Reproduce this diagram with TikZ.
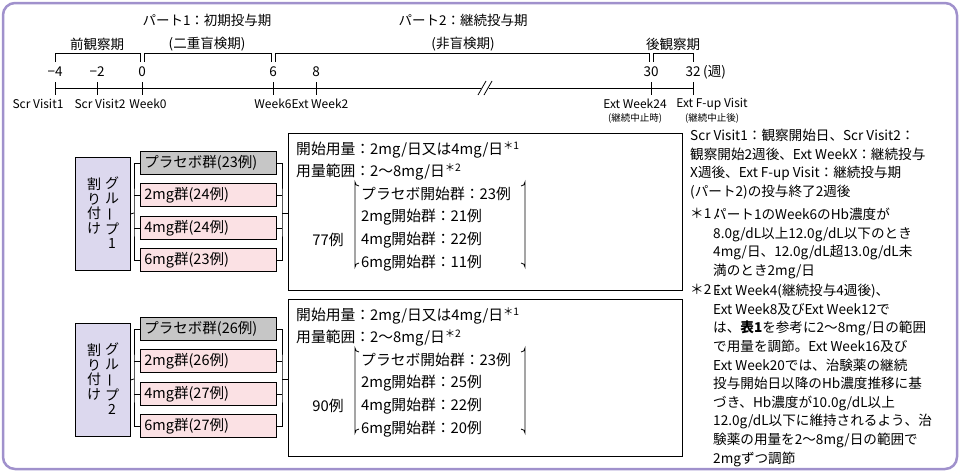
\documentclass[tikz,border=0pt]{standalone}
\usepackage{fontspec}
\setmainfont{Noto Sans CJK JP}
\begin{document}
\begin{tikzpicture}[x=1pt,y=-1pt,
  t/.style={inner sep=0pt,font=\fontsize{13.5}{15}\selectfont},
  sm/.style={inner sep=0pt,font=\fontsize{12}{13}\selectfont},
  xs/.style={inner sep=0pt,font=\fontsize{9.5}{10}\selectfont},
  grp/.style={draw,line width=0.8pt,minimum width=136pt,minimum height=23pt,anchor=west,inner sep=3pt,text width=128pt,align=left,font=\fontsize{14.5}{16}\selectfont},
  alloc/.style={draw,line width=0.8pt,fill=lav,minimum width=55pt,anchor=north west},
  ln/.style={line width=0.8pt},
  info/.style={t,font=\fontsize{14.8}{16}\selectfont},
  nts/.style={t,anchor=north west,align=left,font=\fontsize{13.6}{18.6}\selectfont}]
\definecolor{lav}{HTML}{DCD8EE}\definecolor{pk}{HTML}{FBE1E4}\definecolor{gr}{HTML}{C6C6C6}\definecolor{brd}{HTML}{A091CC}
\useasboundingbox (0,0) rectangle (960,472);
\draw[brd,line width=2.5pt,rounded corners=12pt] (3,3) rectangle (957,469);
% timeline
\draw[ln] (55,62)--(55,53)--(140,53)--(140,62);
\draw[ln] (144,62)--(144,53)--(271,53)--(271,62);
\draw[ln] (275,62)--(275,53)--(649,53)--(649,62);
\draw[ln] (653,62)--(653,53)--(693,53)--(693,62);
\node[t] (pre) at (97,44) {前観察期};
\node[t] (p1a) at (207,20) {パート1：初期投与期};
\node[t] (p1b) at (207,44) {(二重盲検期)};
\node[t] (p2a) at (463,20) {パート2：継続投与期};
\node[t] (p2b) at (463,44) {(非盲検期)};
\node[t] (post) at (673,44) {後観察期};
\draw[ln] (55,88)--(481,88) (489,88)--(693,88);
\draw[ln] (478,95)--(486,81) (484,95)--(492,81);
\foreach \x/\n in {55/−4,97/−2,142/0,273/6,316/8,651/30,693/32}{
  \draw[ln] (\x,82)--(\x,95);
  \node[t] at (\x,72) {\n};
}
\node[t,anchor=west] (wk) at (703,72) {(週)};
\node[sm] (v1) at (38,104) {Scr Visit1};
\node[sm] (v2) at (100,104) {Scr Visit2};
\node[sm] (v3) at (148,104) {Week0};
\node[sm] (v4) at (273,104) {Week6};
\node[sm] (v5) at (320,104) {Ext Week2};
\node[sm] (v6) at (635,104) {Ext Week24};
\node[sm] (v7) at (712,104) {Ext F-up Visit};
\node[xs] (s6) at (635,118) {(継続中止時)};
\node[xs] (s7) at (712,118) {(継続中止後)};
% groups
\foreach \g/\a/\b/\c/\d/\n/\yo/\p/\qa/\qb/\qc in {1/23/24/24/23/77/0/23/21/22/11,2/26/26/27/27/90/166/23/25/22/20}{
\begin{scope}[yshift=-\yo]
\node[alloc,minimum height=113pt] (al\g) at (75,157) {};
\node[inner sep=0pt,align=center,font=\fontsize{14}{14.5}\selectfont] (gA\g) at (112,213) {グ\\ル\\\rotatebox[origin=c]{90}{ー}\\プ\\\g};
\node[inner sep=0pt,align=center,font=\fontsize{14}{14.5}\selectfont] (gB\g) at (94,206) {割\\り\\付\\け};
\node[grp,fill=gr] (a\g) at (140,163) {プラセボ群(\a 例)};
\node[grp,fill=pk] (b\g) at (140,195) {2mg群(\b 例)};
\node[grp,fill=pk] (c\g) at (140,228) {4mg群(\c 例)};
\node[grp,fill=pk] (d\g) at (140,260) {6mg群(\d 例)};
\draw[ln] (al\g.east)--(134,213);
\draw[ln] (a\g.west)-|(134,213)|-(d\g.west);
\draw[ln] (b\g.west)--(134,195) (c\g.west)--(134,228);
\draw[ln] (a\g.east)-|(282,213)|-(d\g.east);
\draw[ln] (b\g.east)--(282,195) (c\g.east)--(282,228);
\node[draw,line width=0.8pt,minimum width=394pt,minimum height=157pt,anchor=north west] (box\g) at (288,133) {};
\draw[ln] (282,213)--(box\g.west|-0,213);
\node[info,anchor=west] (s\g) at (296,150) {開始用量：2mg/日又は4mg/日\textsuperscript{＊1}};
\node[info,anchor=west] (r\g) at (296,172) {用量範囲：2～8mg/日\textsuperscript{＊2}};
\node[info] (n\g) at (328,240) {\n 例};
\draw[ln] (359,186) arc[start angle=90,end angle=180,radius=4] -- (355,267) arc[start angle=180,end angle=270,radius=4];
\draw[ln] (521,186) arc[start angle=90,end angle=0,radius=4] -- (525,267) arc[start angle=0,end angle=-90,radius=4];
\node[info,anchor=west] at (361,194) {プラセボ開始群：\p 例};
\node[info,anchor=west] at (361,217) {2mg開始群：\qa 例};
\node[info,anchor=west] at (361,240) {4mg開始群：\qb 例};
\node[info,anchor=west] at (361,263) {6mg開始群：\qc 例};
\end{scope}}
% notes
\node[nts] (nt) at (690,129) {Scr Visit1：観察開始日、Scr Visit2：\\観察開始2週後、Ext WeekX：継続投与\\X週後、Ext F-up Visit：継続投与期\\(パート2)の投与終了2週後};
\node[nts] (k1) at (690,208) {＊1：};
\node[nts] (k1t) at (713,208) {パート1のWeek6のHb濃度が\\8.0g/dL以上12.0g/dL以下のとき\\4mg/日、12.0g/dL超13.0g/dL未\\満のとき2mg/日};
\node[nts] (k2) at (690,284) {＊2：};
\node[nts] (k2t) at (713,284) {Ext Week4(継続投与4週後)、\\Ext Week8及びExt Week12で\\は、\textbf{表1}を参考に2～8mg/日の範囲\\で用量を調節。Ext Week16及び\\Ext Week20では、治験薬の継続\\投与開始日以降のHb濃度推移に基\\づき、Hb濃度が10.0g/dL以上\\12.0g/dL以下に維持されるよう、治\\験薬の用量を2～8mg/日の範囲で\\2mgずつ調節};
\end{tikzpicture}
\end{document}
